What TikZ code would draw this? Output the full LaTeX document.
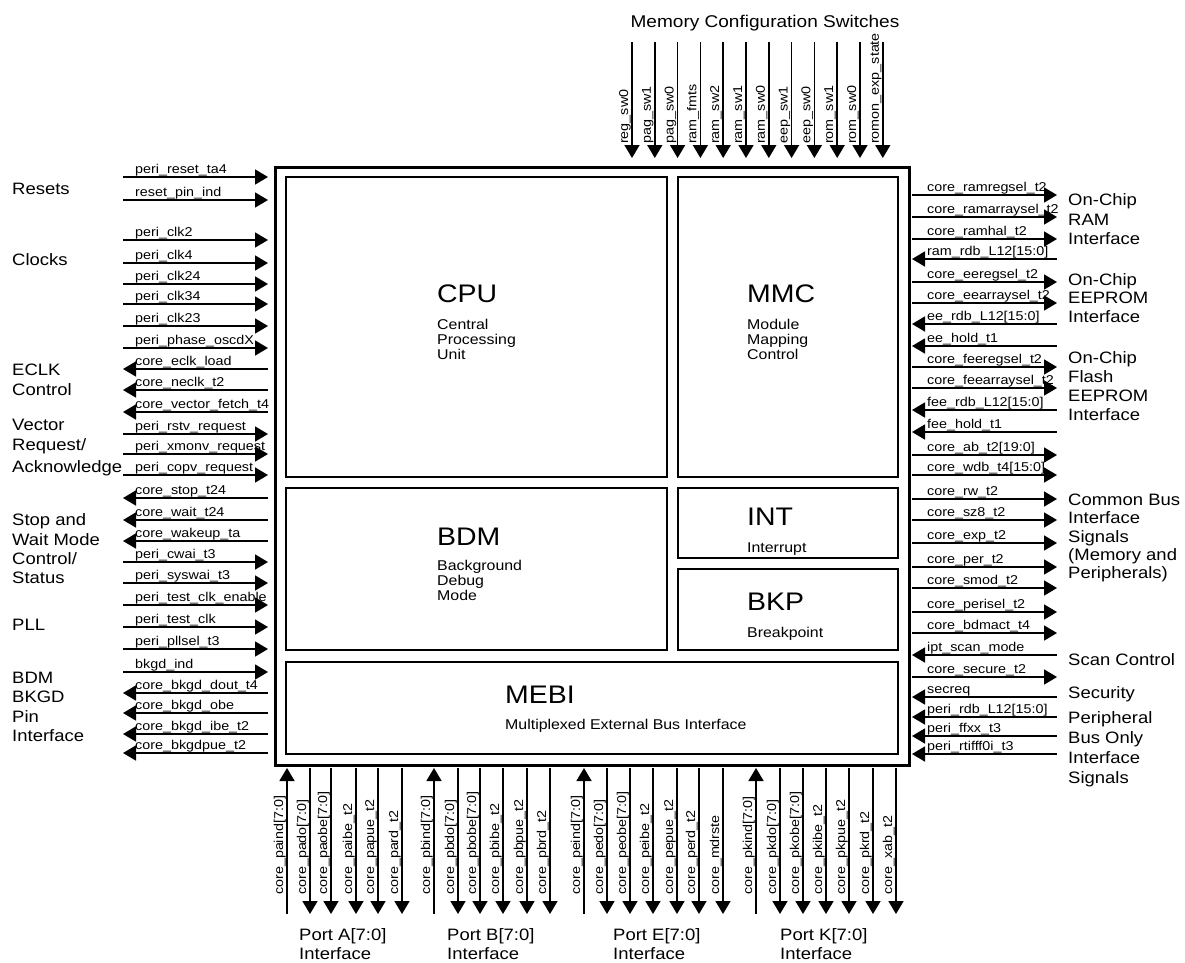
\documentclass[tikz,border=0pt]{standalone}
\usepackage{fontspec}
\setmainfont{Liberation Sans}[FakeStretch=1.12]
\usetikzlibrary{arrows.meta}
\newcommand\sigfont{\fontsize{12.8}{14}\selectfont}
\newcommand\grpfont{\fontsize{16.5}{19.5}\selectfont}
\newcommand\blkfont{\fontsize{25.4}{28}\selectfont}
\newcommand\subfont{\fontsize{14.2}{15}\selectfont}
\begin{document}
\begin{tikzpicture}[x=1pt,y=-1pt,
  sig/.style={line width=1.6pt},
  tipend/.style={-{Triangle[length=13pt,width=15pt]}},
  tipstart/.style={{Triangle[length=13pt,width=15pt]}-},
  lab/.style={font=\sigfont, inner sep=0pt, anchor=base west},
  rlab/.style={lab, rotate=90},
  grp/.style={font=\grpfont, inner sep=0pt, anchor=base west},
  blk/.style={draw, line width=1.5pt, inner sep=0pt, anchor=north west},
  btitle/.style={font=\blkfont, inner sep=0pt, anchor=base west},
  bsub/.style={font=\subfont, inner sep=0pt, anchor=base west}]

\useasboundingbox (0,0) rectangle (1185,962);

% chip and blocks
\node[draw, line width=3pt, inner sep=0pt, anchor=north west, minimum width=634pt, minimum height=598.5pt] (chip) at (273.5,165.5) {};
\node[blk, minimum width=381pt, minimum height=300pt] (cpu) at (285,176) {};
\node[blk, minimum width=220pt, minimum height=300pt] (mmc) at (677,176) {};
\node[blk, minimum width=381pt, minimum height=162pt] (bdm) at (285,487) {};
\node[blk, minimum width=220pt, minimum height=70pt] (int) at (677,487) {};
\node[blk, minimum width=220pt, minimum height=81pt] (bkp) at (677,568) {};
\node[blk, minimum width=612pt, minimum height=92pt] (mebi) at (285,661) {};

\node[btitle] (cpuT) at (437,302) {CPU};
\node[bsub] (cpuS1) at (437,329) {Central};
\node[bsub] (cpuS2) at (437,344) {Processing};
\node[bsub] (cpuS3) at (437,359) {Unit};
\node[btitle] (mmcT) at (747,302) {MMC};
\node[bsub] (mmcS1) at (747,329) {Module};
\node[bsub] (mmcS2) at (747,344) {Mapping};
\node[bsub] (mmcS3) at (747,359) {Control};
\node[btitle] (bdmT) at (437,545) {BDM};
\node[bsub] (bdmS1) at (437,570) {Background};
\node[bsub] (bdmS2) at (437,585) {Debug};
\node[bsub] (bdmS3) at (437,600) {Mode};
\node[btitle] (intT) at (747,525) {INT};
\node[bsub] (intS1) at (747,552) {Interrupt};
\node[btitle] (bkpT) at (747,610) {BKP};
\node[bsub] (bkpS1) at (747,637) {Breakpoint};
\node[btitle] (mebiT) at (505,703) {MEBI};
\node[bsub] (mebiS1) at (505,729) {Multiplexed External Bus Interface};

% left signals
\foreach \y/\d/\t [count=\i] in {
  177/tipend/peri\_reset\_ta4, 200/tipend/reset\_pin\_ind,
  240/tipend/peri\_clk2, 263/tipend/peri\_clk4, 284/tipend/peri\_clk24,
  304/tipend/peri\_clk34, 326/tipend/peri\_clk23, 348/tipend/peri\_phase\_oscdX,
  369/tipstart/core\_eclk\_load, 390/tipstart/core\_neclk\_t2,
  412/tipstart/core\_vector\_fetch\_t4, 434/tipend/peri\_rstv\_request,
  454/tipend/peri\_xmonv\_request, 475/tipend/peri\_copv\_request,
  498/tipstart/core\_stop\_t24, 520/tipstart/core\_wait\_t24,
  541/tipstart/core\_wakeup\_ta, 562/tipend/peri\_cwai\_t3,
  583/tipend/peri\_syswai\_t3, 605/tipend/peri\_test\_clk\_enable,
  627/tipend/peri\_test\_clk, 649/tipend/peri\_pllsel\_t3,
  672/tipend/bkgd\_ind, 693/tipstart/core\_bkgd\_dout\_t4,
  713/tipstart/core\_bkgd\_obe, 734/tipstart/core\_bkgd\_ibe\_t2,
  753/tipstart/core\_bkgdpue\_t2} {
  \coordinate (lf\i) at (123,\y);
  \coordinate (lb\i) at (268,\y);
  \node[lab] (ll\i) at (135,\y-4) {\t};
  \draw[sig,\d] (lf\i) -- (lb\i);
}

% right signals
\foreach \y/\d/\t [count=\i] in {
  195/tipend/core\_ramregsel\_t2, 217/tipend/core\_ramarraysel\_t2,
  239/tipend/core\_ramhal\_t2, 259/tipstart/ram\_rdb\_L12[15:0],
  282/tipend/core\_eeregsel\_t2, 303/tipend/core\_eearraysel\_t2,
  324/tipstart/ee\_rdb\_L12[15:0], 346/tipstart/ee\_hold\_t1,
  367/tipend/core\_feeregsel\_t2, 388/tipend/core\_feearraysel\_t2,
  410/tipstart/fee\_rdb\_L12[15:0], 432/tipstart/fee\_hold\_t1,
  455/tipend/core\_ab\_t2[19:0], 475/tipend/core\_wdb\_t4[15:0],
  499/tipend/core\_rw\_t2, 520/tipend/core\_sz8\_t2,
  543/tipend/core\_exp\_t2, 567/tipend/core\_per\_t2,
  588/tipend/core\_smod\_t2, 612/tipend/core\_perisel\_t2,
  633/tipend/core\_bdmact\_t4, 655/tipstart/ipt\_scan\_mode,
  677/tipend/core\_secure\_t2, 697/tipstart/secreq,
  717/tipstart/peri\_rdb\_L12[15:0], 736/tipstart/peri\_ffxx\_t3,
  754/tipstart/peri\_rtifff0i\_t3} {
  \coordinate (rb\i) at (912,\y);
  \coordinate (rf\i) at (1057,\y);
  \node[lab] (rl\i) at (927,\y-4) {\t};
  \draw[sig,\d] (rb\i) -- (rf\i);
}

% top switches
\foreach \t [count=\i] in {reg\_sw0, pag\_sw1, pag\_sw0, ram\_fmts, ram\_sw2,
  ram\_sw1, ram\_sw0, eep\_sw1, eep\_sw0, rom\_sw1, rom\_sw0, romon\_exp\_state} {
  \coordinate (tt\i) at ({632+22.8*(\i-1)},42);
  \coordinate (tb\i) at ({632+22.8*(\i-1)},158);
  \node[rlab] (tl\i) at ({632+22.8*(\i-1)-4},144) {\t};
  \draw[sig,tipend] (tt\i) -- (tb\i);
}
\node[font=\fontsize{17}{20}\selectfont, inner sep=0pt, anchor=base] (memsw) at (765,27) {Memory Configuration Switches};

% bottom ports
\foreach \x/\d/\t [count=\i] in {
  287/tipstart/core\_paind[7:0], 310/tipend/core\_pado[7:0],
  331/tipend/core\_paobe[7:0], 356/tipend/core\_paibe\_t2,
  378/tipend/core\_papue\_t2, 402/tipend/core\_pard\_t2,
  434/tipstart/core\_pbind[7:0], 458/tipend/core\_pbdo[7:0],
  480/tipend/core\_pbobe[7:0], 503/tipend/core\_pbibe\_t2,
  527/tipend/core\_pbpue\_t2, 550/tipend/core\_pbrd\_t2,
  584/tipstart/core\_peind[7:0], 607/tipend/core\_pedo[7:0],
  630/tipend/core\_peobe[7:0], 653/tipend/core\_peibe\_t2,
  677/tipend/core\_pepue\_t2, 699/tipend/core\_perd\_t2,
  723/tipend/core\_mdrste,
  756/tipstart/core\_pkind[7:0], 780/tipend/core\_pkdo[7:0],
  803/tipend/core\_pkobe[7:0], 826/tipend/core\_pkibe\_t2,
  849/tipend/core\_pkpue\_t2, 873/tipend/core\_pkrd\_t2,
  896/tipend/core\_xab\_t2} {
  \coordinate (bt\i) at (\x,768);
  \coordinate (bb\i) at (\x,914);
  \node[rlab] (bl\i) at (\x-4,895) {\t};
  \draw[sig,\d] (bt\i) -- (bb\i);
}

% port labels
\node[grp] (pA1) at (299,940) {Port A[7:0]};
\node[grp] (pA2) at (299,959) {Interface};
\node[grp] (pB1) at (447,940) {Port B[7:0]};
\node[grp] (pB2) at (447,959) {Interface};
\node[grp] (pE1) at (613,940) {Port E[7:0]};
\node[grp] (pE2) at (613,959) {Interface};
\node[grp] (pK1) at (780,940) {Port K[7:0]};
\node[grp] (pK2) at (780,959) {Interface};

% left group labels
\node[grp] (g1) at (12,194) {Resets};
\node[grp] (g2) at (12,265) {Clocks};
\node[grp] (g3) at (12,375) {ECLK};
\node[grp] (g4) at (12,395) {Control};
\node[grp] (g5) at (12,430) {Vector};
\node[grp] (g6) at (12,450) {Request/};
\node[grp] (g7) at (12,472) {Acknowledge};
\node[grp] (g8) at (12,525) {Stop and};
\node[grp] (g9) at (12,545) {Wait Mode};
\node[grp] (g10) at (12,564) {Control/};
\node[grp] (g11) at (12,583) {Status};
\node[grp] (g12) at (12,630) {PLL};
\node[grp] (g13) at (12,683) {BDM};
\node[grp] (g14) at (12,702) {BKGD};
\node[grp] (g15) at (12,722) {Pin};
\node[grp] (g16) at (12,741) {Interface};

% right group labels
\node[grp] (h1) at (1068,205) {On-Chip};
\node[grp] (h2) at (1068,225) {RAM};
\node[grp] (h3) at (1068,244) {Interface};
\node[grp] (h4) at (1068,285) {On-Chip};
\node[grp] (h5) at (1068,303) {EEPROM};
\node[grp] (h6) at (1068,322) {Interface};
\node[grp] (h7) at (1068,363) {On-Chip};
\node[grp] (h8) at (1068,382) {Flash};
\node[grp] (h9) at (1068,401) {EEPROM};
\node[grp] (h10) at (1068,420) {Interface};
\node[grp] (h11) at (1068,505) {Common Bus};
\node[grp] (h12) at (1068,523) {Interface};
\node[grp] (h13) at (1068,542) {Signals};
\node[grp] (h14) at (1068,560) {(Memory and};
\node[grp] (h15) at (1068,578) {Peripherals)};
\node[grp] (h16) at (1068,665) {Scan Control};
\node[grp] (h17) at (1068,698) {Security};
\node[grp] (h18) at (1068,723) {Peripheral};
\node[grp] (h19) at (1068,743) {Bus Only};
\node[grp] (h20) at (1068,763) {Interface};
\node[grp] (h21) at (1068,783) {Signals};
\end{tikzpicture}
\end{document}
